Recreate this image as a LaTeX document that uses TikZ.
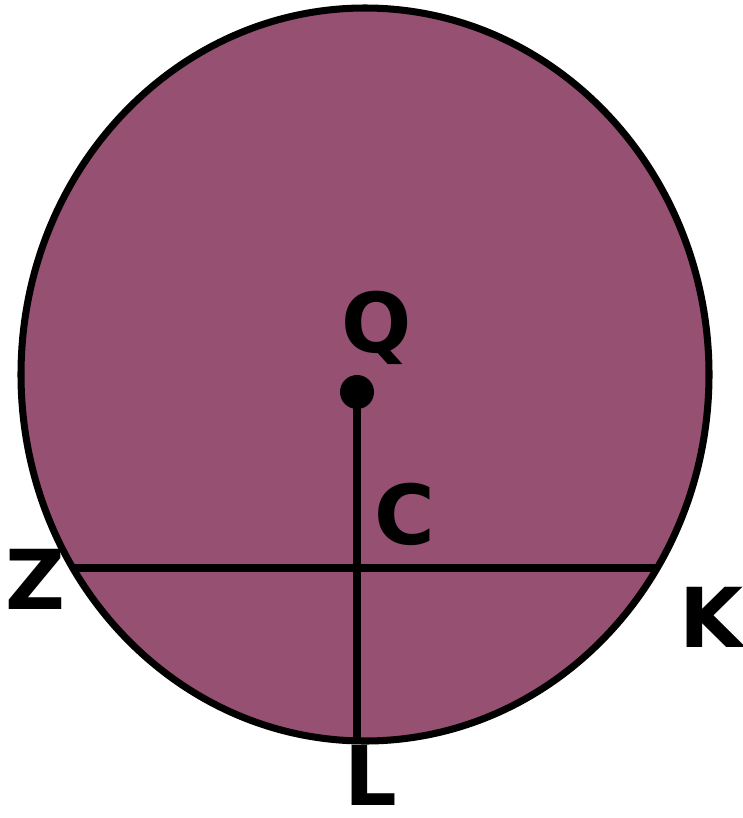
\documentclass[tikz,border=0pt]{standalone}
\usepackage{fontspec}
\setmainfont{DejaVu Sans}
\definecolor{plum}{RGB}{150,80,114}
\begin{document}
\begin{tikzpicture}[x=.01cm,y=-.01cm,line width=2pt,
  lbl/.style={anchor=base,inner sep=0pt,font=\bfseries\fontsize{23.5}{28}\selectfont}]
  \useasboundingbox (0,0) rectangle (742,818);
  \draw[fill=plum] (365,374.5) ellipse [x radius=344, y radius=366.5];
  \coordinate (z) at (73,568);
  \coordinate (k) at (657,568);
  \coordinate (l) at (357,741);
  \node[circle,fill=black,inner sep=0pt,minimum size=.34cm] (q) at (357,392) {};
  \draw (z)--(k);
  \draw (q.center)--(l);
  \node[lbl] (qlab) at (377,352) {Q};
  \node[lbl] (clab) at (405,544) {C};
  \node[lbl] (zlab) at (35,609) {Z};
  \node[lbl] (klab) at (712,647) {K};
  \node[lbl] (llab) at (371,805) {L};
\end{tikzpicture}
\end{document}
